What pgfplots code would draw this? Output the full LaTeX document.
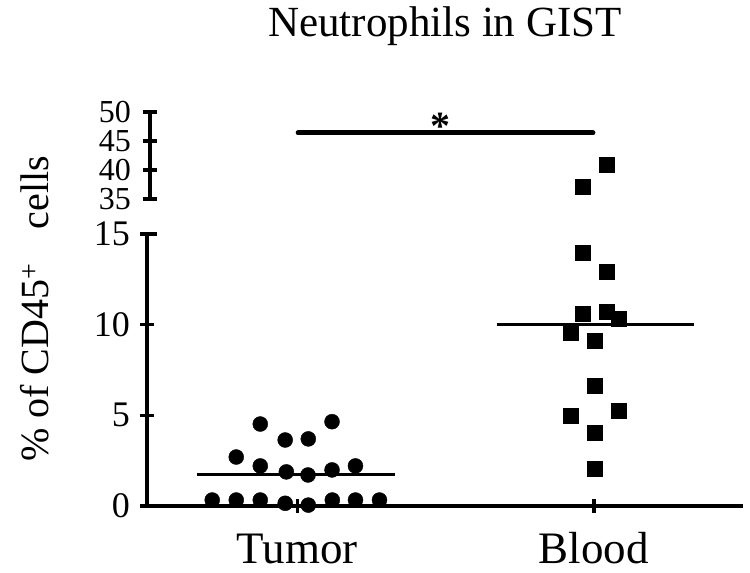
\documentclass[border=0pt]{standalone}
\usepackage{fontspec}
\setmainfont{Liberation Serif}
\usepackage{pgfplots}
\pgfplotsset{compat=1.18}
\begin{document}
\begin{tikzpicture}
\useasboundingbox (0,0) rectangle (750pt,573pt);
\pgfplotsset{
  brk/.style={
    scale only axis, anchor=south west, clip=false,
    tick align=outside, major tick length=14pt,
    tick style={line width=3.5pt, black},
    /pgf/number format/assume math mode=true,
    yticklabel style={font=\fontsize{36}{40}\selectfont, inner sep=0pt, xshift=-10pt},
  }
}
% lower segment 0-15
\begin{axis}[brk,
  at={(147pt,67pt)}, width=596pt, height=272pt,
  xmin=0.493, xmax=2.503, ymin=0, ymax=15,
  axis x line=bottom, axis y line=left,
  axis line style={-, line width=3.5pt, black},
  xtick={1,2}, xticklabels={Tumor,Blood},
  xticklabel style={font=\fontsize{45}{48}\selectfont, anchor=base, inner sep=0pt, yshift=-50pt},
  ytick={0,5,10,15},
]
% Tumor
\addplot[only marks, mark=*, mark size=7.5pt, black] coordinates {
 (0.875,4.52) (1.117,4.65) (0.959,3.64) (1.037,3.70) (0.794,2.70)
 (0.875,2.21) (0.963,1.88) (1.036,1.71) (1.117,1.99) (1.196,2.21)
 (0.713,0.33) (0.794,0.33) (0.875,0.33) (0.959,0.15) (1.037,0.05)
 (1.118,0.33) (1.196,0.33) (1.277,0.33)
};
% Blood (lower range)
\addplot[only marks, mark=square*, mark size=7.5pt, black] coordinates {
 (1.962,13.95) (2.044,12.92) (1.962,10.59) (2.044,10.72) (2.083,10.35)
 (1.922,9.56) (2.003,9.12) (2.003,6.64) (1.922,4.96) (2.083,5.26)
 (2.003,4.04) (2.003,2.08)
};
% median lines
\addplot[black, line width=3.5pt] coordinates {(0.662,1.73) (1.331,1.73)};
\addplot[black, line width=3.5pt] coordinates {(1.672,10.0) (2.338,10.0)};
\end{axis}
% upper segment 35-50
\begin{axis}[brk,
  at={(150pt,374pt)}, width=593pt, height=87pt,
  xmin=0.5034, xmax=2.503, ymin=35, ymax=50,
  axis x line=none, axis y line=left,
  axis line style={-, line width=3.5pt, black},
  ytick={35,40,45,50},
  yticklabel style={font=\fontsize{32}{34}\selectfont, xshift=-2pt},
]
\addplot[only marks, mark=square*, mark size=7.5pt, black] coordinates {
 (2.044,40.86) (1.962,37.12)
};
\addplot[black, line width=5pt, line cap=round] coordinates {(1.003,46.4) (1.997,46.4)};
\node[anchor=base, font=\fontsize{40}{40}\selectfont\bfseries] at (axis cs:1.483,45.3) {*};
\end{axis}
% break caps
\draw[line width=3.5pt] (145.25pt,339pt) -- (157pt,339pt);
\draw[line width=3.5pt] (148.25pt,374pt) -- (157pt,374pt);
\node[anchor=base, font=\fontsize{43}{46}\selectfont] at (445pt,536pt) {Neutrophils in GIST};
\node[anchor=base, rotate=90, font=\fontsize{40}{44}\selectfont] at (48pt,264pt) {\% of CD45\textsuperscript{+}\hspace{0.6em} cells};
\end{tikzpicture}
\end{document}
